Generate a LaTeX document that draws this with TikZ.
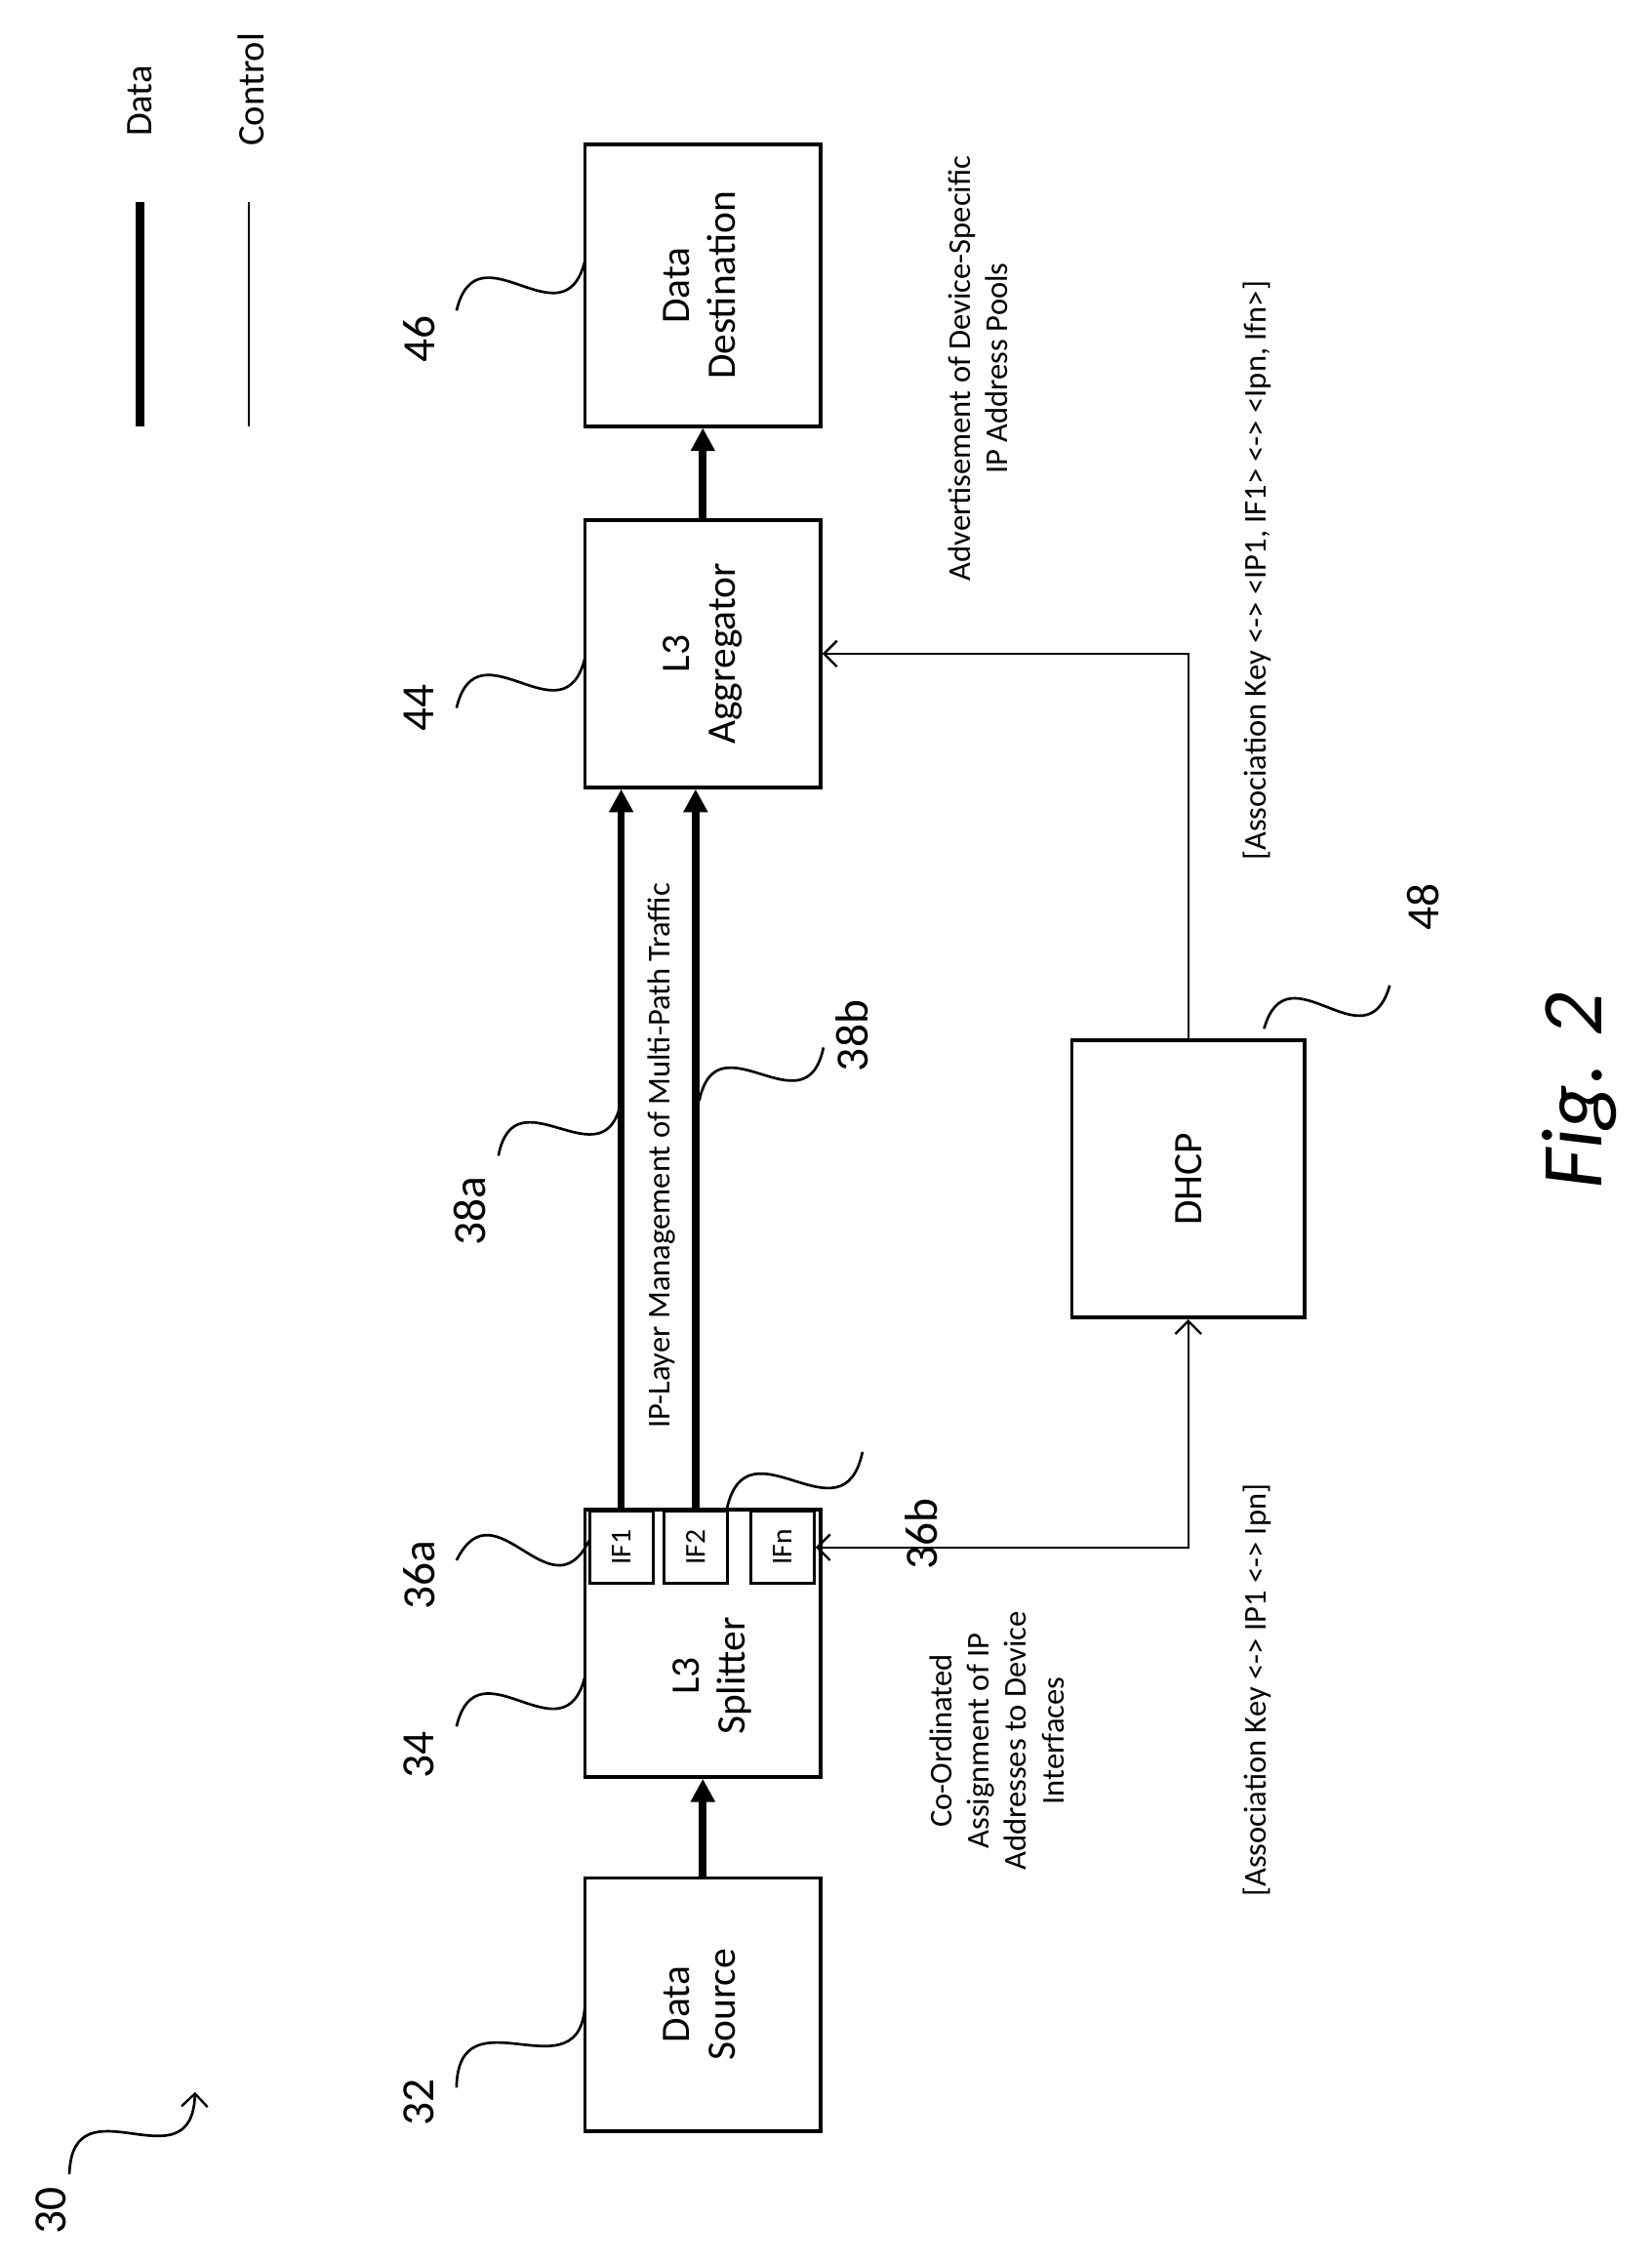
\documentclass[tikz,border=0pt]{standalone}
\usepackage{fontspec}
\setmainfont{Carlito}
\usetikzlibrary{arrows.meta,calc}
\begin{document}
\begin{tikzpicture}[x=0.5pt,y=-0.5pt,
 box/.style={draw,line width=1.2pt,inner sep=0pt,font=\fontsize{14}{16}\selectfont},
 ifb/.style={draw,line width=1pt,minimum width=22pt,minimum height=25pt,inner sep=0pt,font=\fontsize{10}{12}\selectfont},
 data/.style={line width=2.6pt,-{Triangle[length=8pt,width=8pt]}},
 ctrl/.style={line width=0.7pt},
 vt/.tip={Straight Barb[length=4.5pt,width=9pt,line width=0.8pt]},
 num/.style={rotate=90,font=\fontsize{16}{18}\selectfont},
 lbl/.style={rotate=90,align=center,font=\fontsize{11}{13}\selectfont},
 squig/.style={line width=0.9pt}]
\useasboundingbox (0,0) rectangle (1143,1565);
\newcommand{\sq}[3][]{\draw[squig,#1] (#2) .. controls ($(#2)!0.65!55:(#3)$) and ($(#3)!0.65!55:(#2)$) .. (#3);}
\node[box,minimum width=81.5pt,minimum height=87.5pt] (src) at (486.5,1387.5) {\rotatebox{90}{\begin{tabular}{c}Data\\Source\end{tabular}}};
\node[box,minimum width=81.5pt,minimum height=92.5pt] (spl) at (486.5,1137.5) {};
\node[rotate=90,font=\fontsize{14}{16}\selectfont,align=center] (spltxt) at (493,1160) {L3\\Splitter};
\node[box,minimum width=81.5pt,minimum height=92.5pt] (agg) at (486.5,452.5) {\rotatebox{90}{\begin{tabular}{c}L3\\Aggregator\end{tabular}}};
\node[box,minimum width=81.5pt,minimum height=97.5pt] (dst) at (486.5,197.5) {\rotatebox{90}{\begin{tabular}{c}Data\\Destination\end{tabular}}};
\node[box,minimum width=80.5pt,minimum height=96pt] (dhcp) at (822.5,816) {\rotatebox{90}{DHCP}};
\node[ifb] (if1) at (430,1071) {\rotatebox{90}{IF1}};
\node[ifb] (if2) at (481.5,1071) {\rotatebox{90}{IF2}};
\node[ifb] (ifn) at (541.5,1071) {\rotatebox{90}{IFn}};
\draw[data] (src.north) -- (spl.south);
\draw[data] (if1.north) -- (if1.north |- agg.south);
\draw[data] (if2.north) -- (if2.north |- agg.south);
\draw[data] (agg.north) -- (dst.south);
\draw[ctrl,-vt] (dhcp.north) |- (agg.east);
\draw[ctrl,vt-vt] (dhcp.south) |- (ifn.east);
% legend
\coordinate (l1a) at (97,140); \coordinate (l1b) at (97,295);
\coordinate (l2a) at (172,140); \coordinate (l2b) at (172,295);
\draw[line width=3pt] (l1a) -- (l1b);
\draw[ctrl] (l2a) -- (l2b);
\node[lbl,font=\fontsize{13}{15}\selectfont] (ldata) at (97,70) {Data};
\node[lbl,font=\fontsize{13}{15}\selectfont] (lctrl) at (174,62) {Control};
% texts
\node[lbl] (iplm) at (458,800) {IP-Layer Management of Multi-Path Traffic};
\node[lbl] (coord) at (690,1205) {Co-Ordinated\\Assignment of IP\\Addresses to Device\\Interfaces};
\node[lbl] (ak1) at (870,1170) {[Association Key <-> IP1 <-> Ipn]};
\node[lbl] (ak2) at (870,395) {[Association Key <-> <IP1, IF1> <-> <Ipn, Ifn>]};
\node[lbl] (adv) at (677,255) {Advertisement of Device-Specific\\IP Address Pools};
\node[rotate=90,font=\fontsize{30}{32}\selectfont\itshape] (fig) at (1093,755) {Fig. 2};
% numbers and squiggles
\node[num] (n30) at (35,1530) {30};
\node[num] (n32) at (290,1455) {32};
\node[num] (n34) at (290,1215) {34};
\node[num] (n36a) at (290,1090) {36a};
\node[num] (n36b) at (638,1062) {36b};
\node[num] (n38a) at (325,838) {38a};
\node[num] (n38b) at (590,717) {38b};
\node[num] (n44) at (290,490) {44};
\node[num] (n46) at (290,235) {46};
\node[num] (n48) at (985,628) {48};
\coordinate (s30a) at (48,1505); \coordinate (s30b) at (135,1448);
\coordinate (s32a) at (316,1445); \coordinate (s32b) at (405,1385);
\coordinate (s34a) at (316,1195); \coordinate (s34b) at (405,1160);
\coordinate (s36aa) at (316,1080); \coordinate (s36ab) at (408,1066);
\coordinate (s36ba) at (503,1045); \coordinate (s36bb) at (597,1005);
\coordinate (s38aa) at (345,800); \coordinate (s38ab) at (430,762);
\coordinate (s38ba) at (484,762); \coordinate (s38bb) at (570,725);
\coordinate (s44a) at (316,490); \coordinate (s44b) at (405,455);
\coordinate (s46a) at (316,215); \coordinate (s46b) at (405,180);
\coordinate (s48a) at (875,712); \coordinate (s48b) at (962,682);
\sq[-vt]{s30a}{s30b}
\sq{s32a}{s32b}
\sq{s34a}{s34b}
\sq{s36aa}{s36ab}
\sq{s36ba}{s36bb}
\sq{s38aa}{s38ab}
\sq{s38ba}{s38bb}
\sq{s44a}{s44b}
\sq{s46a}{s46b}
\sq{s48a}{s48b}
\end{tikzpicture}
\end{document}
